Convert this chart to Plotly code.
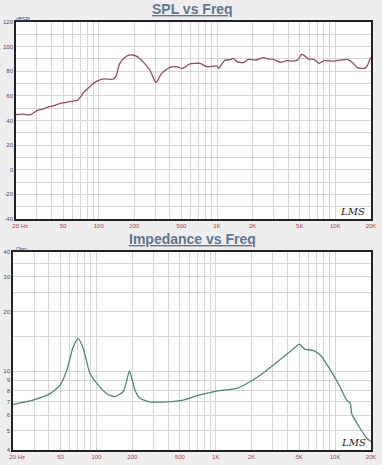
import plotly.graph_objects as go

W, H = 382, 465

# SPL vs Freq
spl_freq = [20, 23, 25, 27, 30, 34, 38, 42, 47, 52, 57, 62, 66, 70, 75, 84, 93, 102, 115, 132,
            140, 150, 165, 180, 195, 215, 236, 270, 295, 306, 340, 400, 450, 515, 590, 715, 820,
            920, 1000, 1030, 1100, 1170, 1300, 1370, 1470, 1670, 1830, 2100, 2470, 2700, 3000,
            3400, 3900, 4400, 4770, 5200, 5500, 5900, 6600, 7300, 8000, 9700, 11000, 12600,
            14000, 15300, 17400, 18500, 19700, 20000]
spl_db = [44.8, 45.2, 44.5, 45, 48, 49.5, 51, 52, 54, 54.5, 55.3, 56, 56.3, 59, 63, 67.5, 71, 73,
          73.8, 73.5, 76, 86, 91, 93, 93.2, 91.5, 87.8, 81, 73, 70.7, 78.3, 83.2, 83.8, 82.4,
          85.9, 86.4, 83.7, 84, 84.3, 82.4, 86, 89, 89.5, 90.4, 87.8, 87, 89.7, 89, 91, 90, 89.7,
          87.3, 88.6, 88.3, 89, 93.8, 92.5, 90, 89.7, 86.4, 88.6, 88.3, 89, 89.7, 87, 82.9, 82.4,
          84, 90.4, 91]

# Impedance vs Freq
imp_freq = [20, 29.4, 40.8, 49.5, 56.4, 64, 70.5, 77.7, 88, 100.6, 122, 143, 168, 180, 189, 211,
            232, 281, 388, 535, 738, 1018, 1500, 1940, 2510, 3040, 3690, 4480, 5030, 5300, 5610,
            6580, 7480, 9690, 11000, 12500, 13400, 13800, 16200, 18400, 20000]
imp_ohm = [6.8, 7.15, 7.7, 8.5, 10.1, 13.3, 14.6, 13.0, 9.8, 8.7, 7.7, 7.44, 7.9, 9.0, 10.05, 8.0,
           7.3, 7.0, 7.0, 7.15, 7.6, 7.94, 8.2, 8.85, 9.8, 10.75, 11.8, 13.0, 13.7, 13.3, 12.9,
           12.7, 12.1, 9.55, 8.35, 7.15, 6.9, 6.1, 5.15, 4.6, 4.4]

x_grid = [m * 10 ** e for e in range(1, 5) for m in range(1, 10) if 20 <= m * 10 ** e <= 20000]
x_labels = {20: "&nbsp;&nbsp;&nbsp;&nbsp;&nbsp;20 Hz", 50: "50", 100: "100", 200: "200", 500: "500",
            1000: "1K", 2000: "2K", 5000: "5K", 10000: "10K", 20000: "20K"}
x_text = [x_labels.get(v, "") for v in x_grid]

spl_grid = list(range(-40, 121, 10))
spl_text = [str(v) if v % 20 == 0 else "" for v in spl_grid]

imp_grid = [4, 5, 6, 7, 8, 9, 10, 15, 20, 25, 30, 35, 40]
imp_labels = {4: "4", 5: "5", 6: "6", 7: "7", 8: "8", 9: "9", 10: "10", 20: "20", 30: "30", 40: "40"}
imp_text = [imp_labels.get(v, "") for v in imp_grid]

BG = "#eeeeee"
GRID = "#d6d6d6"
TITLE_C = "#61768f"
YT_C = "#3d4a78"
XT_C = "#b0404a"
FONT = "Liberation Sans, Arial, sans-serif"

fig = go.Figure()
fig.add_trace(go.Scatter(x=spl_freq, y=spl_db, mode="lines", xaxis="x", yaxis="y",
                         line=dict(color="#9a4868", width=1.3, shape="spline", smoothing=0.6),
                         hoverinfo="skip", showlegend=False))
fig.add_trace(go.Scatter(x=imp_freq, y=imp_ohm, mode="lines", xaxis="x2", yaxis="y2",
                         line=dict(color="#4f8a68", width=1.3, shape="spline", smoothing=0.6),
                         hoverinfo="skip", showlegend=False))

def xa(domain, anchor):
    return dict(type="log", domain=domain, anchor=anchor, range=[1.30103, 4.30103],
                tickmode="array", tickvals=x_grid, ticktext=x_text,
                tickfont=dict(size=6, color=XT_C, family=FONT),
                showgrid=True, gridcolor=GRID, gridwidth=1, zeroline=False,
                showline=True, linecolor="#222222", linewidth=1.5, mirror=True,
                ticks="", ticklen=0, fixedrange=True, automargin=False)

def ya(domain, anchor, **kw):
    d = dict(domain=domain, anchor=anchor, tickmode="array",
             tickfont=dict(size=6, color=YT_C, family=FONT),
             showgrid=True, gridcolor=GRID, gridwidth=1, zeroline=False,
             showline=True, linecolor="#222222", linewidth=1.5, mirror=True,
             ticks="", ticklen=0, fixedrange=True, automargin=False)
    d.update(kw)
    return d

def note(text, x, y, size, color, family=FONT, xanchor="center"):
    return dict(text=text, x=x / W, y=1 - y / H, xref="paper", yref="paper",
                xanchor=xanchor, yanchor="middle", showarrow=False,
                font=dict(size=size, color=color, family=family))

fig.update_layout(
    width=W, height=H,
    margin=dict(l=0, r=0, t=0, b=0, pad=0),
    paper_bgcolor=BG, plot_bgcolor="white",
    xaxis=xa([16 / W, 371 / W], "y"),
    yaxis=ya([1 - 219 / H, 1 - 22 / H], "x", range=[-40, 120], tickvals=spl_grid, ticktext=spl_text),
    xaxis2=xa([13 / W, 371 / W], "y2"),
    yaxis2=ya([1 - 450 / H, 1 - 252 / H], "x2", type="log", range=[0.60206, 1.60206],
              tickvals=imp_grid, ticktext=imp_text),
    annotations=[
        note("<b><u>SPL vs Freq</u></b>", 193, 9, 14, TITLE_C),
        note("<b><u>Impedance vs Freq</u></b>", 193, 239, 14, TITLE_C),
        note("dBSPL", 14, 18.5, 5, YT_C, xanchor="left"),
        note("Ohm", 14, 248.5, 5, YT_C, xanchor="left"),
        note("<i>LMS</i>", 367, 211, 10, "#222222", "DejaVu Serif, serif", "right"),
        note("<i>LMS</i>", 368, 442, 10, "#222222", "DejaVu Serif, serif", "right"),
    ],
)

fig.write_html("out.html", config={"displayModeBar": False},
               post_script="document.body.style.margin='0';document.body.style.padding='0';"
                           "document.body.style.background='#eeeeee';")
